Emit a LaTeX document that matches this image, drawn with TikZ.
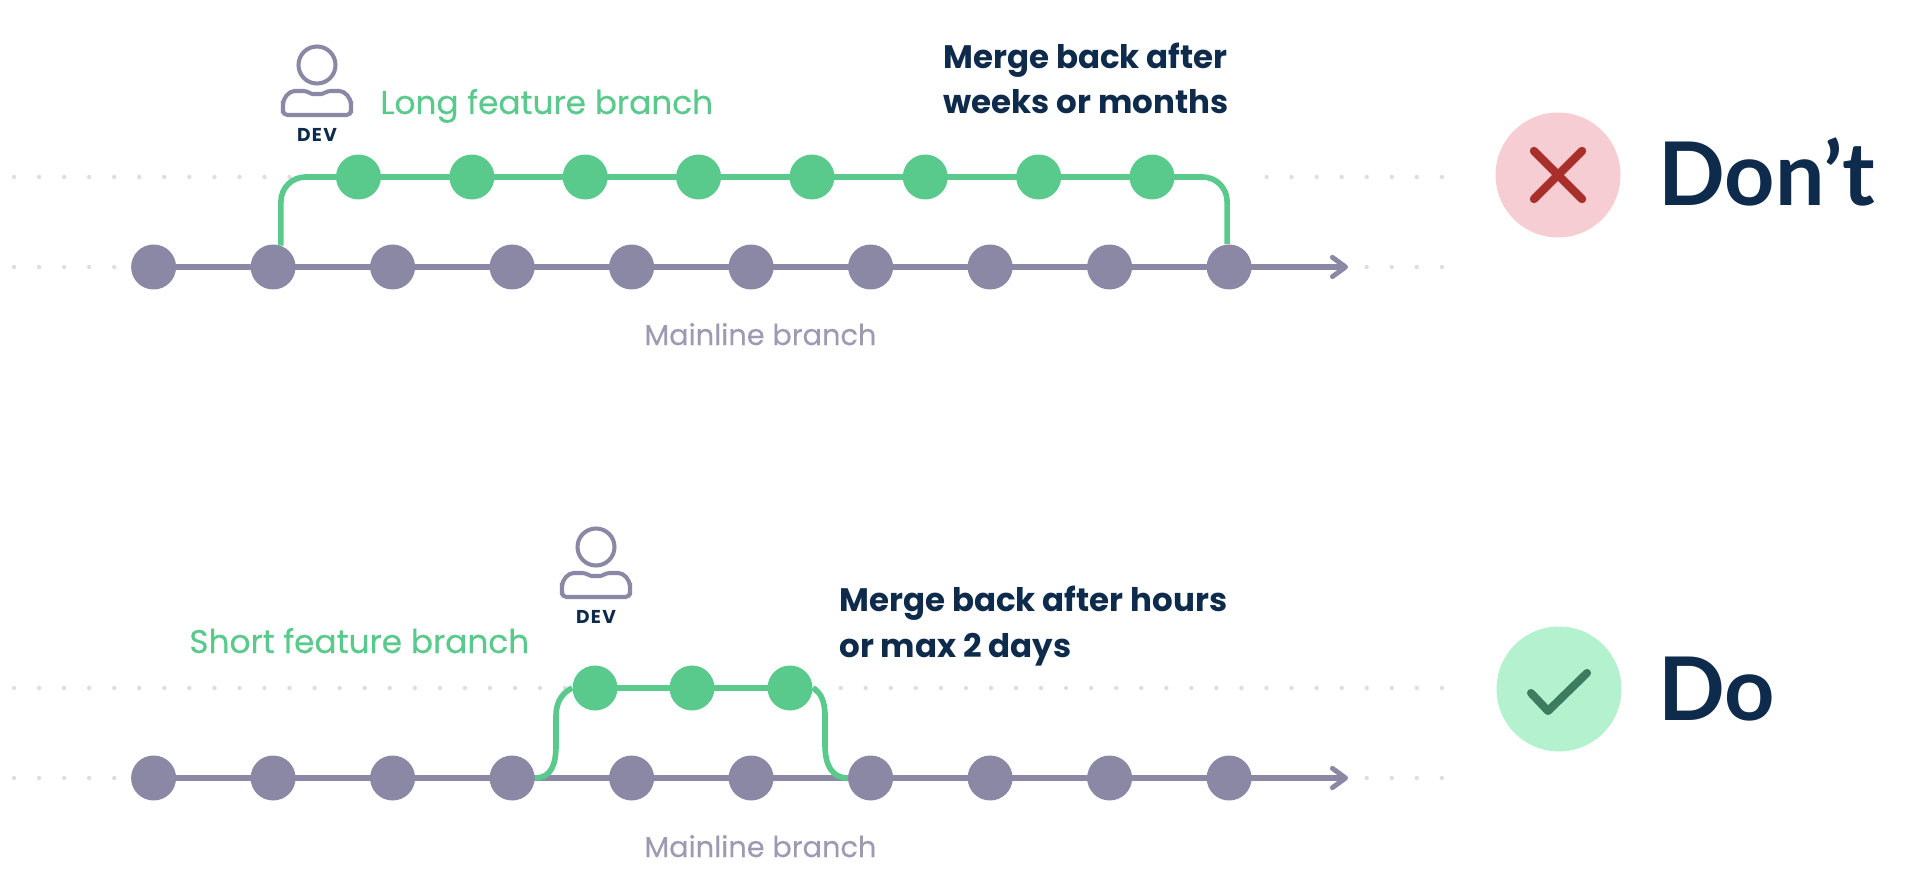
\documentclass[tikz,border=0pt]{standalone}
\usepackage{fontspec}
\setmainfont{Poppins}
\newfontfamily\headfont{Lato}
\newfontfamily\mediumfont[FakeBold=0.35]{Poppins}
\newfontfamily\devfont[LetterSpace=7]{Poppins}
\usetikzlibrary{arrows.meta}
\definecolor{mainlinegrey}{HTML}{8A88A5}
\definecolor{labelgrey}{HTML}{9C9BB4}
\definecolor{featuregreen}{HTML}{5ACA8C}
\definecolor{inkblue}{HTML}{0E2B4C}
\definecolor{traildot}{HTML}{DEDEDE}
\definecolor{dontfill}{HTML}{F6CDD3}
\definecolor{dontmark}{HTML}{A9302A}
\definecolor{dofill}{HTML}{B4F1CE}
\definecolor{domark}{HTML}{3B7D5E}
\tikzset{
    maindot/.style={circle, fill=mainlinegrey, inner sep=0pt, minimum size=0.9cm},
    featuredot/.style={circle, fill=featuregreen, inner sep=0pt, minimum size=0.9cm},
    mainline/.style={draw=mainlinegrey, line width=3.4pt, shorten <=-2pt},
    featureline/.style={draw=featuregreen, line width=3.2pt},
    overlap/.style={shorten <=-2pt, shorten >=-2pt},
    barbtip/.style={-{Straight Barb[length=7.5pt, width=11pt, line width=2.8pt, round]}},
    bigbadge/.style={circle, inner sep=0pt, minimum size=2.5cm},
    greenlabel/.style={anchor=base west, inner sep=0pt, text=featuregreen, font=\mediumfont\fontsize{18.65pt}{25.6pt}\selectfont},
    mergelabel/.style={anchor=base west, inner sep=0pt, align=left, text=inkblue, font=\fontsize{18.5pt}{26pt}\selectfont\bfseries},
    greylabel/.style={anchor=base west, inner sep=0pt, text=labelgrey, font=\mediumfont\fontsize{16.4pt}{20pt}\selectfont},
    headlabel/.style={anchor=base west, inner sep=0pt, text=inkblue, font=\headfont\fontsize{50pt}{60pt}\selectfont\bfseries},
    devlabel/.style={inner sep=0pt, text=inkblue, font=\devfont\fontsize{10.6pt}{12pt}\selectfont\bfseries},
    devicon/.pic={
        \draw[mainlinegrey, line width=2.3pt] (0,0) circle (18.5);
        \draw[mainlinegrey, line width=2.3pt, rounded corners=2.5] (-34,50) -- (34,50) -- (34,44)
            .. controls (34,33) and (28,26) .. (18,26) .. controls (10,26) and (6,29) .. (0,29)
            .. controls (-6,29) and (-10,26) .. (-18,26) .. controls (-28,26) and (-34,33) .. (-34,44) -- cycle;
    },
}
\begin{document}
\begin{tikzpicture}[x=0.02cm, y=-0.02cm]
    \useasboundingbox (0,0) rectangle (1912,888);

    % dotted trails
    \foreach \k in {0,...,11,50,51,...,57} \fill[traildot] ({14+25.05*\k},177) circle (2.2);
    \foreach \k in {0,...,4,54,55,56,57} \fill[traildot] ({14+25.05*\k},267) circle (2.2);
    \foreach \k in {0,...,22,32,33,...,57} \fill[traildot] ({14+25.05*\k},688) circle (2.2);
    \foreach \k in {0,...,4,54,55,56,57} \fill[traildot] ({14+25.05*\k},778) circle (2.2);

    % long feature branch
    \foreach \i in {1,...,10} \node[maindot] (top\i) at ({153.6+119.5*(\i-1)},267) {};
    \foreach \i in {1,...,8} \node[featuredot] (long\i) at ({358.5+113.36*(\i-1)},177) {};
    \coordinate (topend) at (1348,267);
    \foreach \i [remember=\i as \j (initially 1)] in {2,...,10} \draw[mainline, overlap] (top\j) -- (top\i);
    \draw[mainline, barbtip] (top10) -- (topend);
    \foreach \i [remember=\i as \j (initially 1)] in {2,...,8} \draw[featureline, overlap] (long\j) -- (long\i);
    \draw[featureline, rounded corners=14pt, shorten >=-2pt] (top2.70) |- (long1);
    \draw[featureline, rounded corners=14pt, shorten <=-2pt] (long8) -| (top10.95);

    \pic at (317,65) {devicon};
    \node[devlabel] (topdev) at (317,135) {DEV};
    \node[greenlabel] (longlabel) at (380,114) {Long feature branch};
    \node[mergelabel] (topmerge) at (943,114) {Merge back after\\weeks or months};
    \node[greylabel] (topmain) at (644,345) {Mainline branch};

    \node[bigbadge, fill=dontfill] (dontbadge) at (1558,175) {};
    \draw[dontmark, line width=4.8pt, line cap=round] (1534,151) -- (1582,199);
    \draw[dontmark, line width=4.8pt, line cap=round] (1582,151) -- (1534,199);
    \node[headlabel] (dontlabel) at (1658,206) {Don’t};

    % short feature branch
    \foreach \i in {1,...,10} \node[maindot] (low\i) at ({153.6+119.5*(\i-1)},778) {};
    \node[featuredot] (short1) at (595,688) {};
    \node[featuredot] (short2) at (692,688) {};
    \node[featuredot] (short3) at (790,688) {};
    \coordinate (lowend) at (1348,778);
    \foreach \i [remember=\i as \j (initially 1)] in {2,...,10} \draw[mainline, overlap] (low\j) -- (low\i);
    \draw[mainline, barbtip] (low10) -- (lowend);
    \draw[featureline, overlap] (short1) -- (short2);
    \draw[featureline, overlap] (short2) -- (short3);
    \draw[featureline] (low4.east) .. controls (551,778) and (556,765) .. (556,745) -- (556,716)
        .. controls (556,700) and (564,692) .. (short1.west);
    \draw[featureline] (short3.east) .. controls (820,692) and (825,700) .. (825,716) -- (825,745)
        .. controls (825,765) and (832,778) .. (low7.west);

    \pic at (596,547) {devicon};
    \node[devlabel] (lowdev) at (596,617) {DEV};
    \node[greenlabel] (shortlabel) at (189,653) {Short feature branch};
    \node[mergelabel] (lowmerge) at (839,657) {Merge back after hours\\or max 2 days};
    \node[greylabel] (lowmain) at (644,857) {Mainline branch};

    \node[bigbadge, fill=dofill] (dobadge) at (1559,689) {};
    \draw[domark, line width=4.6pt, line cap=round, line join=round] (1531,693) -- (1548,711) -- (1587,673);
    \node[headlabel] (dolabel) at (1658,720) {Do};
\end{tikzpicture}
\end{document}
